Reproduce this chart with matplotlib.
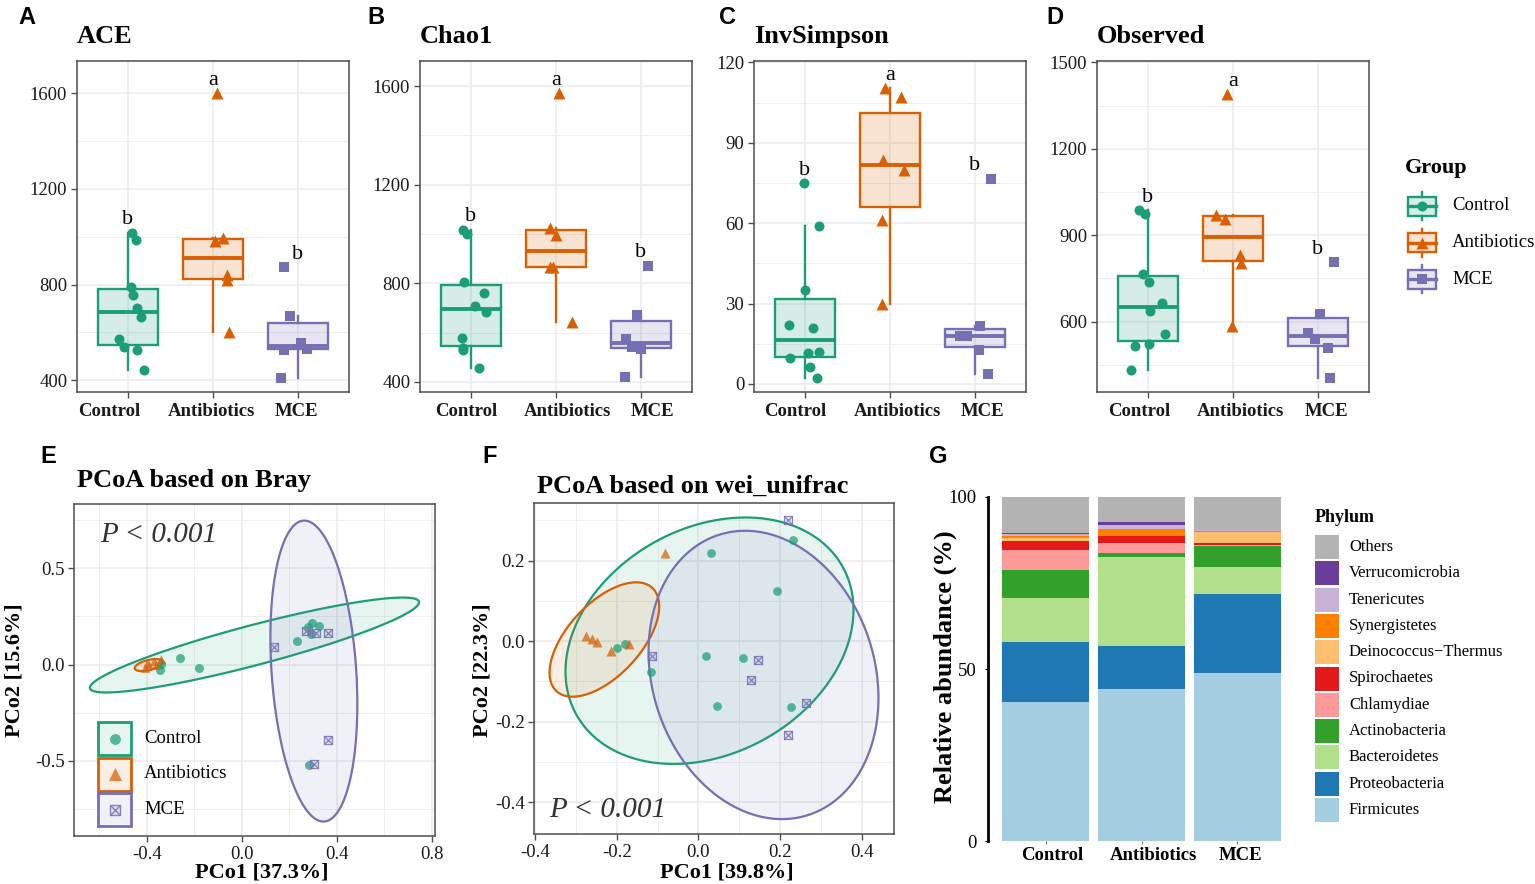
import numpy as np
import matplotlib
matplotlib.use('Agg')
import matplotlib.pyplot as plt
from matplotlib.patches import Rectangle
from matplotlib.colors import to_rgba
from matplotlib.transforms import ScaledTranslation

plt.rcParams['font.family'] = ['Liberation Serif', 'DejaVu Serif']
plt.rcParams['axes.unicode_minus'] = False

groups = ['Control', 'Antibiotics', 'MCE']
colors = ['#1B9E77', '#D95F02', '#7570B3']
markers = ['o', '^', 's']

# alpha diversity (one list per group)
ace = [[1017, 988, 790, 757, 702, 665, 571, 538, 528, 443],
       [1600, 980, 995, 838, 820, 601],
       [872, 668, 556, 532, 528, 411]]
chao1 = [[1018, 1002, 806, 760, 707, 684, 577, 536, 530, 458],
         [1572, 1025, 995, 867, 865, 642],
         [871, 673, 576, 542, 535, 419]]
invsimpson = [[75, 59, 34.9, 21.9, 20.9, 11.7, 12, 9.7, 6.3, 2.4],
              [110.3, 107.2, 83.5, 80, 61.3, 30],
              [76.6, 21.5, 17.8, 17.8, 12.6, 3.9]]
observed = [[988, 975, 767, 738, 666, 637, 556, 515, 524, 433],
            [1390, 972, 956, 830, 803, 585],
            [807, 628, 561, 539, 510, 405]]
sig_letters = ['b', 'a', 'b']

# horizontal jitter of the points (category units)
ace_jit = [[0.05, 0.09, 0.04, 0.06, 0.11, 0.15, -0.11, -0.05, 0.10, 0.19],
           [0.05, 0.02, 0.12, 0.16, 0.17, 0.19],
           [-0.16, -0.09, 0.03, 0.10, -0.16, -0.20]]
chao1_jit = [[-0.10, -0.05, -0.08, 0.15, 0.05, 0.18, -0.11, -0.09, -0.10, 0.09],
             [0.03, -0.07, 0.0, -0.07, -0.04, 0.19],
             [0.08, -0.05, -0.18, -0.11, 0.0, -0.19]]
invsimpson_jit = [[-0.01, 0.16, 0.0, -0.19, 0.09, 0.03, 0.17, -0.18, 0.06, 0.14],
                  [-0.06, 0.13, -0.08, 0.17, -0.09, -0.09],
                  [0.19, 0.06, -0.18, -0.09, 0.05, 0.15]]
observed_jit = [[-0.11, -0.03, -0.06, 0.01, 0.16, 0.02, 0.20, -0.15, 0.01, -0.20],
                [-0.07, -0.20, -0.09, 0.08, 0.09, -0.01],
                [0.19, 0.02, -0.12, -0.04, 0.12, 0.14]]

# PCoA Bray
bray_x = [[-0.261, -0.180, -0.345, -0.340, 0.230, 0.279, 0.296, 0.326, 0.289, 0.281],
          [-0.41, -0.40, -0.39, -0.37, -0.36, -0.34],
          [0.136, 0.269, 0.314, 0.364, 0.364, 0.303]]
bray_y = [[0.034, -0.017, -0.026, 0.002, 0.122, 0.195, 0.216, 0.200, 0.160, -0.521],
          [-0.02, 0.01, 0.0, 0.02, 0.0, 0.03],
          [0.091, 0.174, 0.164, 0.164, -0.391, -0.516]]
# ellipse: centre x, centre y, half width, half height, correlation
bray_ell = [(0.053, 0.101, 0.693, 0.246, 0.90),
            (-0.392, -0.003, 0.059, 0.031, 0.50),
            (0.303, -0.034, 0.183, 0.780, -0.22)]

# PCoA weighted unifrac
wu_x = [[0.031, 0.231, 0.191, -0.198, -0.179, 0.019, 0.110, -0.115, 0.046, 0.226],
        [-0.081, -0.275, -0.261, -0.248, -0.215, -0.169],
        [0.218, -0.113, 0.145, 0.129, 0.263, 0.220]]
wu_y = [[0.218, 0.251, 0.125, -0.017, -0.007, -0.036, -0.041, -0.076, -0.161, -0.163],
        [0.220, 0.013, 0.005, -0.001, -0.024, -0.008],
        [0.301, -0.036, -0.048, -0.096, -0.153, -0.233]]
wu_ell = [(0.027, 0.001, 0.352, 0.306, 0.25),
          (-0.230, 0.004, 0.134, 0.142, 0.58),
          (0.159, -0.084, 0.281, 0.358, -0.16)]

# phylum relative abundance (%), bottom to top
phyla = ['Firmicutes', 'Proteobacteria', 'Bacteroidetes', 'Actinobacteria', 'Chlamydiae',
         'Spirochaetes', 'Deinococcus\u2212Thermus', 'Synergistetes', 'Tenericutes',
         'Verrucomicrobia', 'Others']
firmicutes = [40.4, 44.3, 48.8]
proteobacteria = [17.5, 12.3, 23.1]
bacteroidetes = [12.8, 26.1, 7.8]
actinobacteria = [8.0, 0.9, 6.0]
chlamydiae = [6.0, 3.0, 0.3]
spirochaetes = [2.6, 2.0, 0.5]
deinococcus = [0.7, 0.2, 3.3]
synergistetes = [0.7, 1.9, 0.2]
tenericutes = [0.5, 1.2, 0.3]
verrucomicrobia = [0.4, 0.8, 0.2]
others = [10.4, 7.3, 9.5]
abund = [firmicutes, proteobacteria, bacteroidetes, actinobacteria, chlamydiae, spirochaetes,
         deinococcus, synergistetes, tenericutes, verrucomicrobia, others]
phy_cols = ['#A6CEE3', '#1F78B4', '#B2DF8A', '#33A02C', '#FB9A99', '#E31A1C',
            '#FDBF6F', '#FF7F00', '#CAB2D6', '#6A3D9A', '#B3B3B3']

W, H = 1535, 884
fig = plt.figure(figsize=(W / 100, H / 100), dpi=100)


def box(l, t, r, b):
    return [l / W, 1 - b / H, (r - l) / W, (b - t) / H]


def ftext(x, y, s, **kw):
    fig.text(x / W, 1 - y / H, s, **kw)


def minors(ticks, lim):
    step = ticks[1] - ticks[0]
    m = np.arange(ticks[0] - step * 2.5, ticks[-1] + step * 2, step)
    return [v for v in m if lim[0] <= v <= lim[1]]


def shift_xlabels(ax, offs):
    # small horizontal nudges (pixels) of the category labels, as in the original
    for lbl, dx in zip(ax.get_xticklabels(), offs):
        lbl.set_transform(lbl.get_transform() + ScaledTranslation(dx / 100, 0, fig.dpi_scale_trans))


def style(ax):
    ax.set_axisbelow(True)
    ax.grid(which='major', color='#EBEBEB', lw=1.1)
    ax.grid(which='minor', color='#EBEBEB', lw=0.6)
    for sp in ax.spines.values():
        sp.set_color('#4D4D4D')
        sp.set_linewidth(1.1)
    ax.tick_params(which='major', length=4, width=1.0, color='#4D4D4D',
                   labelsize=13.5, labelcolor='#1A1A1A')
    ax.tick_params(which='minor', length=0)


# ---- top row: alpha diversity boxplots
tops = [(77, 'ACE', ace, ace_jit, (351, 1734), [400, 800, 1200, 1600], 'A', 27, [-19, -2, -1]),
        (420, 'Chao1', chao1, chao1_jit, (359, 1702), [400, 800, 1200, 1600], 'B', 376, [-5, 12, 12]),
        (754, 'InvSimpson', invsimpson, invsimpson_jit, (-3.0, 120.5), [0, 30, 60, 90, 120], 'C', 728,
         [-10, 7, 8]),
        (1097, 'Observed', observed, observed_jit, (356, 1505), [600, 900, 1200, 1500], 'D', 1055,
         [-9, 8, 9])]
sizes = [52, 74, 44]

for left, title, vals, jit, ylim, yt, lab, labx, offs in tops:
    ax = fig.add_axes(box(left, 61, left + 272, 392))
    for i in range(3):
        c = colors[i]
        v = vals[i]
        ax.boxplot(v, positions=[i + 1], widths=0.71, patch_artist=True, showfliers=False,
                   showcaps=False, manage_ticks=False,
                   boxprops=dict(facecolor=to_rgba(c, 0.18), edgecolor=c, lw=1.7),
                   whiskerprops=dict(color=c, lw=1.7),
                   medianprops=dict(color=c, lw=2.8))
        ax.scatter(i + 1 + np.array(jit[i]), v, marker=markers[i], s=sizes[i], color=c,
                   lw=0, zorder=3)
        ax.annotate(sig_letters[i], (i + 1, max(v)), xytext=(0, 6), textcoords='offset points',
                    ha='center', va='baseline', fontsize=16)
    ax.set_xlim(0.4, 3.6)
    ax.set_ylim(ylim)
    ax.set_yticks(yt)
    ax.set_yticks(minors(yt, ylim), minor=True)
    ax.set_xticks([1, 2, 3], groups, fontweight='bold', fontsize=13.5)
    style(ax)
    ax.tick_params(axis='x', pad=4)
    ax.tick_params(axis='y', pad=3)
    ax.grid(which='minor', axis='x', visible=False)
    shift_xlabels(ax, offs)
    ftext(left, 43, title, fontsize=19, fontweight='bold', va='baseline')
    ftext(labx, 24, lab, fontsize=17, fontweight='bold', family='Liberation Sans',
          ha='center', va='baseline')


def ellipse(cx, cy, hx, hy, r, n=300):
    t = np.linspace(0, 2 * np.pi, n)
    return cx + hx * np.cos(t), cy + hy * (r * np.cos(t) + np.sqrt(1 - r * r) * np.sin(t))


def pcoa(ax, xs, ys, ells, sz):
    for i in range(3):
        c = colors[i]
        ex, ey = ellipse(*ells[i])
        ax.fill(ex, ey, facecolor=to_rgba(c, 0.1), edgecolor=c, lw=1.6, zorder=2)
    for i in range(3):
        c = colors[i]
        if i == 2:
            ax.scatter(xs[i], ys[i], marker='s', s=sz[2], facecolor=to_rgba(c, 0.12),
                       edgecolor=to_rgba(c, 0.85), lw=0.9, zorder=3)
            ax.scatter(xs[i], ys[i], marker='x', s=sz[2], color=to_rgba(c, 0.85), lw=0.9, zorder=3)
        else:
            ax.scatter(xs[i], ys[i], marker=markers[i], s=sz[i], color=to_rgba(c, 0.72),
                       lw=0, zorder=3)


# ---- E
axe = fig.add_axes(box(74, 504, 435, 836))
pcoa(axe, bray_x, bray_y, bray_ell, [42, 40, 36])
axe.set_xlim(-0.707, 0.813)
axe.set_ylim(-0.889, 0.832)
ext = [-0.4, 0.0, 0.4, 0.8]
eyt = [-0.5, 0.0, 0.5]
axe.set_xticks(ext, [f'{t:.1f}' for t in ext])
axe.set_yticks(eyt, [f'{t:.1f}' for t in eyt])
axe.set_xticks(minors(ext, (-0.707, 0.813)), minor=True)
axe.set_yticks(minors(eyt, (-0.889, 0.832)), minor=True)
style(axe)
axe.tick_params(axis='x', pad=3)
axe.tick_params(axis='y', pad=2.5)
axe.text(-0.598, 0.669, 'P < 0.001', fontsize=21, style='italic', color='#333333', va='center')
ftext(77, 487, 'PCoA based on Bray', fontsize=19, fontweight='bold', va='baseline')
ftext(48, 463, 'E', fontsize=17, fontweight='bold', family='Liberation Sans', ha='center', va='baseline')
ftext(262, 878, 'PCo1 [37.3%]', fontsize=16, fontweight='bold', ha='center', va='baseline')
ftext(15, 670, 'PCo2 [15.6%]', fontsize=16, fontweight='bold', ha='center', va='center', rotation=90)

# ---- F
axf = fig.add_axes(box(534, 503, 894, 834))
pcoa(axf, wu_x, wu_y, wu_ell, [40, 52, 38])
axf.set_xlim(-0.402, 0.478)
axf.set_ylim(-0.479, 0.343)
fxt = [-0.4, -0.2, 0.0, 0.2, 0.4]
fyt = [-0.4, -0.2, 0.0, 0.2]
axf.set_xticks(fxt, [f'{t:.1f}' for t in fxt])
axf.set_yticks(fyt, [f'{t:.1f}' for t in fyt])
axf.set_xticks(minors(fxt, (-0.402, 0.478)), minor=True)
axf.set_yticks(minors(fyt, (-0.479, 0.343)), minor=True)
style(axf)
axf.tick_params(axis='x', pad=3)
axf.tick_params(axis='y', pad=2.5)
axf.text(-0.364, -0.419, 'P < 0.001', fontsize=21, style='italic', color='#333333', va='center')
ftext(537, 493, 'PCoA based on wei_unifrac', fontsize=19, fontweight='bold', va='baseline')
ftext(490, 463, 'F', fontsize=17, fontweight='bold', family='Liberation Sans', ha='center', va='baseline')
ftext(727, 878, 'PCo1 [39.8%]', fontsize=16, fontweight='bold', ha='center', va='baseline')
ftext(483, 670, 'PCo2 [22.3%]', fontsize=16, fontweight='bold', ha='center', va='center', rotation=90)

# ---- G stacked bars
axg = fig.add_axes(box(988, 497, 1295, 841))
bottom = np.zeros(3)
for vals, c in zip(abund, phy_cols):
    axg.bar([1, 2, 3], vals, 0.9, bottom=bottom, color=c, lw=0)
    bottom += np.array(vals)
axg.set_xlim(0.4, 3.6)
axg.set_ylim(0, 100)
axg.set_yticks([0, 50, 100])
axg.set_xticks([1, 2, 3], groups, fontweight='bold', fontsize=13.5)
for k in ['top', 'right', 'bottom']:
    axg.spines[k].set_visible(False)
axg.spines['left'].set_linewidth(2)
axg.spines['left'].set_color('black')
axg.tick_params(axis='y', length=2, width=0.8, pad=6, labelsize=13.5)
axg.tick_params(axis='x', length=2, width=0.8, pad=2, color='#777777')
shift_xlabels(axg, [7, 12, 3])
ftext(945, 667, 'Relative abundance (%)', fontsize=19, fontweight='bold', ha='center',
      va='center', rotation=90)
ftext(938, 463, 'G', fontsize=17, fontweight='bold', family='Liberation Sans', ha='center', va='baseline')

# ---- legends (drawn in pixel space)
ov = fig.add_axes([0, 0, 1, 1])
ov.set_xlim(0, W)
ov.set_ylim(H, 0)
ov.axis('off')

ftext(1405, 168, 'Group', fontsize=16, fontweight='bold', va='center')
for i in range(3):
    c = colors[i]
    cy = 206 + 36.5 * i
    ov.add_patch(Rectangle((1408, cy - 9.5), 28, 19, facecolor=to_rgba(c, 0.18), edgecolor=c, lw=1.7))
    ov.plot([1422, 1422], [cy - 14, cy - 9.5], color=c, lw=1.7)
    ov.plot([1422, 1422], [cy + 9.5, cy + 14], color=c, lw=1.7)
    ov.plot([1408, 1436], [cy, cy], color=c, lw=2.4)
    ov.scatter([1422], [cy], marker=markers[i], s=sizes[i], color=c, lw=0, zorder=5)
    ftext(1452, cy, groups[i], fontsize=13.5, va='center')

for i in range(3):
    c = colors[i]
    top = 722 + 35.5 * i
    ov.add_patch(Rectangle((98, top), 33, 33, facecolor='white', edgecolor='none'))
    ov.add_patch(Rectangle((98, top), 33, 33, facecolor=to_rgba(c, 0.1), edgecolor=c, lw=2))
    cx, cy = 114.5, top + 16.5
    if i == 2:
        ov.scatter([cx], [cy], marker='s', s=50, facecolor=to_rgba(c, 0.12),
                   edgecolor=to_rgba(c, 0.85), lw=1.0, zorder=5)
        ov.scatter([cx], [cy], marker='x', s=50, color=to_rgba(c, 0.85), lw=1.0, zorder=5)
    else:
        ov.scatter([cx], [cy], marker=markers[i], s=[60, 90][i], color=to_rgba(c, 0.72), lw=0, zorder=5)
    ftext(144, cy, groups[i], fontsize=13.5, va='center')

ftext(1315, 518, 'Phylum', fontsize=13, fontweight='bold', va='center')
for k, (name, c) in enumerate(zip(phyla[::-1], phy_cols[::-1])):
    cy = 547 + 26.3 * k
    ov.add_patch(Rectangle((1315, cy - 12), 24, 24, facecolor=c, edgecolor='none'))
    ftext(1349, cy, name, fontsize=12, va='center')

fig.savefig('out.png', dpi=100)
